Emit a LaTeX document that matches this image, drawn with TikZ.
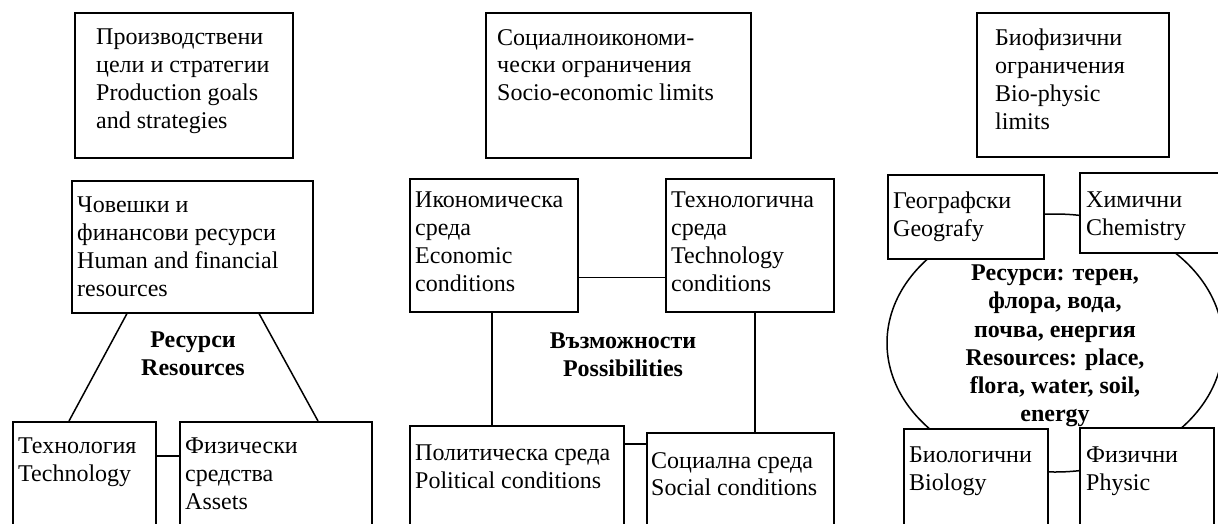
\documentclass[tikz,border=0pt]{standalone}
\usepackage{fontspec}
\setmainfont{Liberation Serif}
\usetikzlibrary{shapes.geometric}
\begin{document}
\begin{tikzpicture}[x=1pt,y=-1pt,
  box/.style={draw, line width=1.5pt, fill=white, anchor=north west, inner sep=0pt},
  txt/.style={anchor=north west, inner sep=0pt, align=left, font=\fontsize{24}{27.8}\selectfont},
  boldtxt/.style={inner sep=0pt, align=center, font=\fontsize{24}{28.3}\selectfont\bfseries},
  link/.style={line width=1.5pt}]
\useasboundingbox (0,0) rectangle (1218,523);
\clip (0,0) rectangle (1218,523);

% ellipse (behind the boxes)
\node[draw, ellipse, line width=1.5pt, minimum width=336pt, minimum height=258pt, inner sep=0pt] (ell) at (1055,343) {};
\node[boldtxt] (ellt) at (1055,346) {Ресурси: терен,\\флора, вода,\\почва, енергия\\Resources: place,\\flora, water, soil,\\energy};

% top boxes
\node[box, minimum width=218pt, minimum height=145pt] (pg) at (74,12) {};
\node[box, minimum width=265pt, minimum height=145pt] (se) at (485,12) {};
\node[box, minimum width=192pt, minimum height=144pt] (bp) at (976,12) {};

% left group
\node[box, minimum width=241pt, minimum height=132pt] (hr) at (71,180) {};
\node[box, minimum width=143pt, minimum height=130pt] (tech) at (12,421) {};
\node[box, minimum width=192pt, minimum height=130pt] (assets) at (179,421) {};

% middle group
\node[box, minimum width=168pt, minimum height=133pt] (econ) at (409,178) {};
\node[box, minimum width=168pt, minimum height=133pt] (techc) at (665,178) {};
\node[box, minimum width=214pt, minimum height=130pt] (pol) at (409,425) {};
\node[box, minimum width=187pt, minimum height=130pt] (soc) at (646,432) {};

% right group
\node[box, minimum width=156pt, minimum height=84pt] (geo) at (887,174) {};
\node[box, minimum width=151pt, minimum height=80pt] (chem) at (1079,172) {};
\node[box, minimum width=144pt, minimum height=130pt] (bio) at (903,428) {};
\node[box, minimum width=134pt, minimum height=130pt] (phys) at (1079,427) {};

% texts
\node[txt] (pgt) at (96,29) {Производствени\\цели и стратегии\\Production goals\\and strategies};
\node[txt] (set) at (497,29) {Социалноикономи-\\чески ограничения\\Socio-economic limits};
\node[txt] (bpt) at (995,29) {Биофизични\\ограничения\\Bio-physic\\limits};
\node[txt] (hrt) at (77,197) {Човешки и\\финансови ресурси\\Human and financial\\resources};
\node[txt] (techt) at (18,438) {Технология\\Technology};
\node[txt] (assetst) at (185,438) {Физически\\средства\\Assets};
\node[txt] (econt) at (415,192) {Икономическа\\среда\\Economic\\conditions};
\node[txt] (techct) at (671,192) {Технологична\\среда\\Technology\\conditions};
\node[txt] (polt) at (415,445) {Политическа среда\\Political conditions};
\node[txt] (soct) at (651,452) {Социална среда\\Social conditions};
\node[txt] (geot) at (893,192) {Географски\\Geografy};
\node[txt] (chemt) at (1086,192) {Химични\\Chemistry};
\node[txt] (biot) at (909,447) {Биологични\\Biology};
\node[txt] (physt) at (1086,447) {Физични\\Physic};

\node[boldtxt] (res) at (193,354) {Ресурси\\Resources};
\node[boldtxt] (pos) at (623,355) {Възможности\\Possibilities};

% connectors
\draw[link] ([xshift=56pt]hr.south west) -- ([xshift=57pt]tech.north west);
\draw[link] ([xshift=188pt]hr.south west) -- ([xshift=139pt]assets.north west);
\draw[link] ([yshift=-35pt]tech.north east) -- ([yshift=-35pt]assets.north west);
\draw[link] ([yshift=35pt]econ.south east) -- ([yshift=35pt]techc.south west);
\draw[link] ([xshift=83pt]econ.south west) -- ([xshift=83pt]pol.north west);
\draw[link] ([xshift=90pt]techc.south west) -- ([xshift=109pt]soc.north west);
\draw[link] ([yshift=-19pt]pol.north east) -- ([yshift=-12pt]soc.north west);
\end{tikzpicture}
\end{document}
